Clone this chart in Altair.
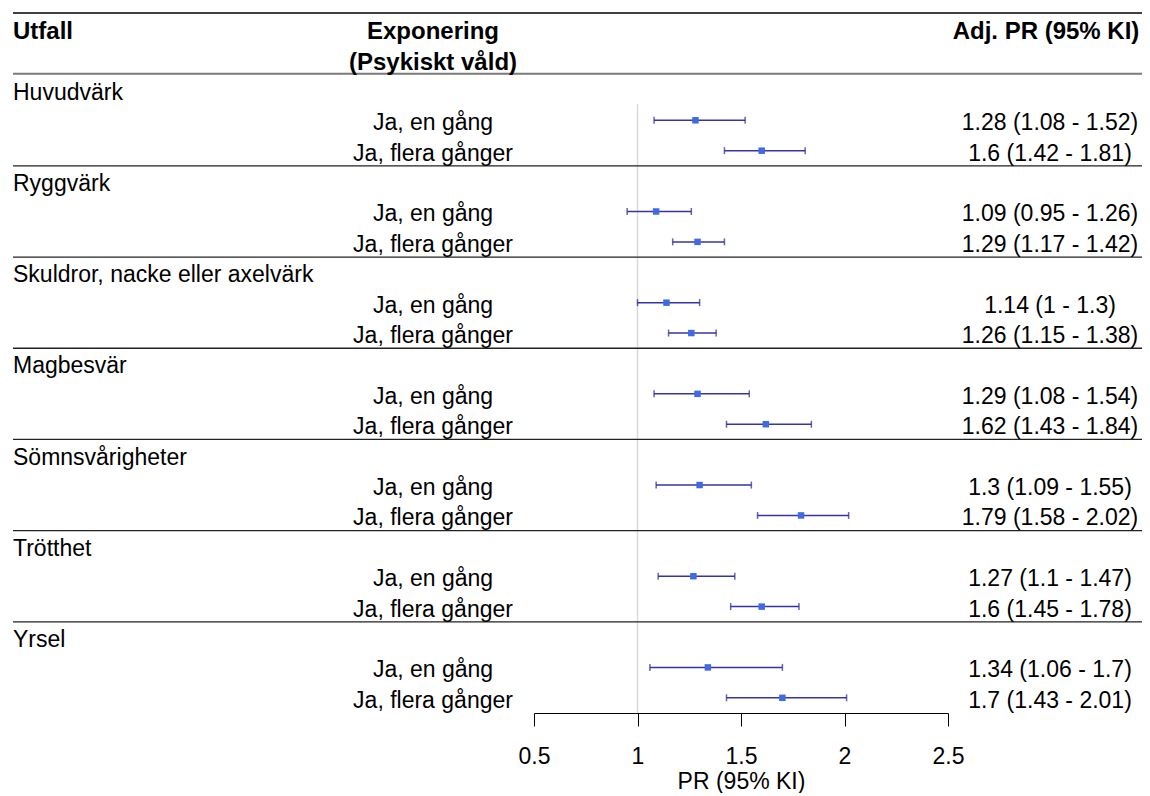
import altair as alt
import pandas as pd

# ---------------- data ----------------
outcomes = ["Huvudvärk", "Ryggvärk", "Skuldror, nacke eller axelvärk", "Magbesvär",
            "Sömnsvårigheter", "Trötthet", "Yrsel"]
exposures = ["Ja, en gång", "Ja, flera gånger"]

pr_once = [1.28, 1.09, 1.14, 1.29, 1.30, 1.27, 1.34]
lo_once = [1.08, 0.95, 1.00, 1.08, 1.09, 1.10, 1.06]
hi_once = [1.52, 1.26, 1.30, 1.54, 1.55, 1.47, 1.70]

pr_multi = [1.60, 1.29, 1.26, 1.62, 1.79, 1.60, 1.70]
lo_multi = [1.42, 1.17, 1.15, 1.43, 1.58, 1.45, 1.43]
hi_multi = [1.81, 1.42, 1.38, 1.84, 2.02, 1.78, 2.01]

x_ticks = [0.5, 1, 1.5, 2, 2.5]

header_outcome = "Utfall"
header_exposure = ["Exponering", "(Psykiskt våld)"]
header_estimate = "Adj. PR (95% KI)"
x_title = "PR (95% KI)"

# ---------------- tables ----------------
group_rows = []
est_rows = []
for g, name in enumerate(outcomes):
    group_rows.append({"row": 3 * g, "text": name})
    for k, (p, l, h) in enumerate([(pr_once[g], lo_once[g], hi_once[g]),
                                   (pr_multi[g], lo_multi[g], hi_multi[g])]):
        est_rows.append({
            "row": 3 * g + 1 + k,
            "exposure": exposures[k],
            "pr": p, "lo": l, "hi": h,
            "label": f"{p:g} ({l:g} - {h:g})",
        })
groups = pd.DataFrame(group_rows)
est = pd.DataFrame(est_rows)
seps = pd.DataFrame({"row": [3 * g + 2.5 for g in range(len(outcomes) - 1)]})

FONT = "Liberation Sans"
FS = 23
HFS = 24
TOP_ROW, BOTTOM_ROW = -2.53, 20.5

yscale = alt.Scale(domain=[TOP_ROW, BOTTOM_ROW], reverse=True, nice=False, zero=False)
xscale = alt.Scale(domain=[x_ticks[0], x_ticks[-1]], nice=False, zero=False)

def Y(field="row"):
    return alt.Y(f"{field}:Q", scale=yscale, axis=None)

X_LEFT, X_EXPO, X_EST, X_EST_H, X_RIGHT = -521, -101, 516, 512, 608

# ---------------- layers ----------------
base_axis = alt.Axis(values=x_ticks, format="~g", grid=False, title=x_title,
                     domainColor="black", tickColor="black", tickSize=13,
                     labelPadding=19, labelFontSize=FS, labelFont=FONT,
                     labelColor="black", labelFlush=False, labelOverlap=False,
                     titleFontSize=FS, titleFont=FONT, titleFontWeight="normal",
                     titleColor="black", titlePadding=2)

ref_line = alt.Chart(pd.DataFrame({"v": [1], "y0": [0.47], "y1": [BOTTOM_ROW]})).mark_rule(
    color="#d9d9d9", strokeWidth=1.5
).encode(x=alt.X("v:Q", scale=xscale, axis=base_axis), y=Y("y0"), y2="y1:Q")

top_line = alt.Chart(pd.DataFrame({"row": [TOP_ROW]})).mark_rule(
    color="black", strokeWidth=1.5
).encode(y=Y(), x=alt.value(X_LEFT), x2=alt.value(X_RIGHT))

head_line = alt.Chart(pd.DataFrame({"row": [-0.53]})).mark_rule(
    color="#7a7a7a", strokeWidth=2
).encode(y=Y(), x=alt.value(X_LEFT), x2=alt.value(X_RIGHT))

sep_lines = alt.Chart(seps).mark_rule(color="#222222", strokeWidth=1.3).encode(
    y=Y(), x=alt.value(X_LEFT), x2=alt.value(X_RIGHT))

ci = alt.Chart(est).mark_rule(color="#3535aa", strokeWidth=1.5).encode(
    x=alt.X("lo:Q", scale=xscale), x2="hi:Q", y=Y())
cap_lo = alt.Chart(est).mark_tick(orient="vertical", color="#22229a", size=7, thickness=1.5).encode(
    x=alt.X("lo:Q", scale=xscale), y=Y())
cap_hi = alt.Chart(est).mark_tick(orient="vertical", color="#22229a", size=7, thickness=1.5).encode(
    x=alt.X("hi:Q", scale=xscale), y=Y())
pts = alt.Chart(est).mark_square(color="#4169e1", size=42, opacity=1).encode(
    x=alt.X("pr:Q", scale=xscale), y=Y())

txt = dict(baseline="middle", fontSize=FS, font=FONT, color="black", dy=3)

group_text = alt.Chart(groups).mark_text(align="left", **txt).encode(
    y=Y(), x=alt.value(X_LEFT), text="text:N")
expo_text = alt.Chart(est).mark_text(align="center", **txt).encode(
    y=Y(), x=alt.value(X_EXPO), text="exposure:N")
est_text = alt.Chart(est).mark_text(align="center", **txt).encode(
    y=Y(), x=alt.value(X_EST), text="label:N")

hdr = dict(baseline="middle", fontSize=HFS, font=FONT, color="black", dy=3, fontWeight="bold")
h_out = alt.Chart(pd.DataFrame({"row": [-2.0], "t": [header_outcome]})).mark_text(
    align="left", **hdr).encode(y=Y(), x=alt.value(X_LEFT), text="t:N")
h_exp = alt.Chart(pd.DataFrame({"row": [-2.0, -1.0], "t": header_exposure})).mark_text(
    align="center", **hdr).encode(y=Y(), x=alt.value(X_EXPO), text="t:N")
h_est = alt.Chart(pd.DataFrame({"row": [-2.0], "t": [header_estimate]})).mark_text(
    align="center", **hdr).encode(y=Y(), x=alt.value(X_EST_H), text="t:N")

chart = alt.layer(
    ref_line, top_line, head_line, sep_lines, ci, cap_lo, cap_hi, pts,
    group_text, expo_text, est_text, h_out, h_exp, h_est
).properties(
    width=414, height=700,
    autosize=alt.AutoSizeParams(type="none"),
    padding={"left": 526, "top": 5, "right": 194, "bottom": 80},
).configure(background="white", view=alt.ViewConfig(stroke=None))

chart.save("out.html", embed_options={"renderer": "svg", "actions": False})
